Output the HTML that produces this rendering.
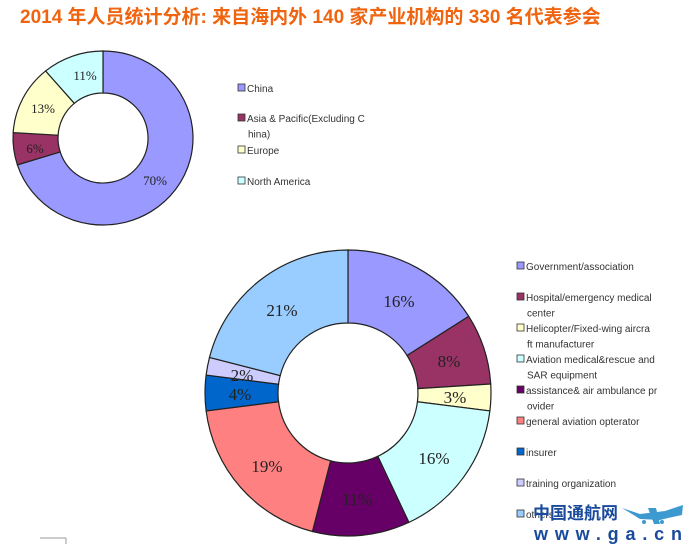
<!DOCTYPE html>
<html><head><meta charset="utf-8"><style>
html,body{margin:0;padding:0;background:#fff;}
body{width:689px;height:544px;overflow:hidden;position:relative;}
.t{position:absolute;left:20px;top:2px;font:bold 19px "Liberation Sans","Noto Sans CJK SC",sans-serif;color:#F0640F;white-space:nowrap;}
svg{position:absolute;left:0;top:0;}
.lg{font-family:"Liberation Sans",sans-serif;font-size:10px;fill:#333;}
.pc{font-family:"Liberation Serif",serif;fill:#222;}
</style></head><body>
<div class="t">2014 年人员统计分析: 来自海内外 140 家产业机构的 330 名代表参会</div>
<svg width="689" height="544" id="s"></svg>
<script>
const s=document.getElementById('s');
function donut(cx,cy,rx,ry,ir,vals,cols){
 let a=0,h='';
 vals.forEach((v,i)=>{
  const a0=a,a1=a+v/100*2*Math.PI;a=a1;
  const p=(r1,r2,t)=>[cx+r1*Math.sin(t),cy-r2*Math.cos(t)];
  const large=(a1-a0)>Math.PI?1:0;
  const [x0,y0]=p(rx,ry,a0),[x1,y1]=p(rx,ry,a1),[x2,y2]=p(ir,ir,a1),[x3,y3]=p(ir,ir,a0);
  h+=`<path d="M${x0},${y0}A${rx},${ry} 0 ${large} 1 ${x1},${y1}L${x2},${y2}A${ir},${ir} 0 ${large} 0 ${x3},${y3}Z" fill="${cols[i]}" stroke="#222" stroke-width="1.2"/>`;
 });
 return h;
}
let h='';
h+=donut(103,138,90,87,45,[70,6,13,11],['#9999FF','#993366','#FFFFCC','#CCFFFF']);
h+=donut(348,393,143,143,70,[16,8,3,16,11,19,4,2,21],['#9999FF','#993366','#FFFFCC','#CCFFFF','#660066','#FF8080','#0066CC','#CCCCFF','#99CCFF']);
const l1=[[85,80,'11%'],[43,113,'13%'],[35,153,'6%'],[155,185,'70%']];
l1.forEach(l=>h+=`<text class="pc" x="${l[0]}" y="${l[1]}" font-size="13" text-anchor="middle">${l[2]}</text>`);
const l2=[[399,307,'16%'],[449,367,'8%'],[455,403,'3%'],[434,464,'16%'],[357,505,'11%'],[267,472,'19%'],[240,400,'4%'],[242,381,'2%'],[282,316,'21%']];
l2.forEach(l=>h+=`<text class="pc" x="${l[0]}" y="${l[1]}" font-size="17" text-anchor="middle">${l[2]}</text>`);
function leg(x,items){
 items.forEach(it=>{
  h+=`<rect x="${x}" y="${it[0]-8}" width="7" height="7" fill="${it[1]}" stroke="#333" stroke-width="0.8"/>`;
  it[2].forEach((t,j)=>h+=`<text class="lg" x="${j?x+10:x+9}" y="${it[0]+j*15.5}">${t}</text>`);
 });
}
leg(238,[[92,'#9999FF',['China']],[122,'#993366',['Asia & Pacific(Excluding C','hina)']],[154,'#FFFFCC',['Europe']],[185,'#CCFFFF',['North America']]]);
leg(517,[[270,'#9999FF',['Government/association']],[301,'#993366',['Hospital/emergency medical','center']],[332,'#FFFFCC',['Helicopter/Fixed-wing aircra','ft manufacturer']],[363,'#CCFFFF',['Aviation medical&rescue and','SAR equipment']],[394,'#660066',['assistance& air ambulance pr','ovider']],[425,'#FF8080',['general aviation opterator']],[456,'#0066CC',['insurer']],[487,'#CCCCFF',['training organization']],[518,'#99CCFF',['others']]]);
h+=`<text x="533" y="519" font-family="'Noto Sans CJK SC',sans-serif" font-weight="bold" font-size="17" fill="#1a4a9c">中国通航网</text>`;
h+=`<text x="534" y="540" font-family="'Liberation Sans',sans-serif" font-weight="bold" font-size="18" fill="#1a4a9c" textLength="148" lengthAdjust="spacing">www.ga.cn</text>`;
h+=`<path d="M622,508 L640,514 L665,511 L683,505 L682,515 L668,518 L660,520 L640,519 Z" fill="#3d9ad1"/><path d="M648,508 L656,508 L660,524 L654,524 Z" fill="#3d9ad1"/><circle cx="644" cy="522" r="2" fill="#3d9ad1"/><circle cx="662" cy="522" r="2" fill="#3d9ad1"/>`;
h+=`<line x1="40" y1="538" x2="66" y2="538" stroke="#999" stroke-width="1"/><line x1="66" y1="538" x2="66" y2="544" stroke="#999"/>`;
s.innerHTML=h;
</script>
</body></html>
